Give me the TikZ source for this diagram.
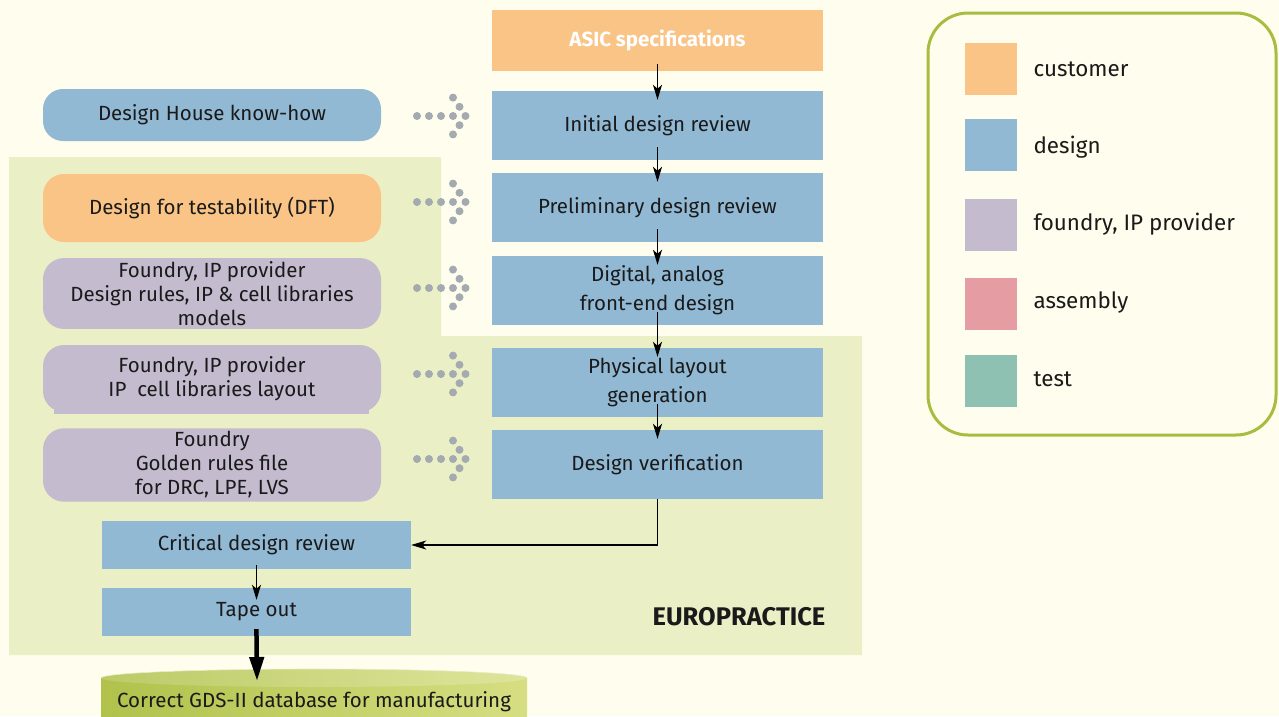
\documentclass[tikz,border=0pt]{standalone}
\usepackage{fontspec}
\setmainfont{Fira Sans}
\usetikzlibrary{arrows.meta,positioning,calc,shapes}
\definecolor{bgcream}{HTML}{FFFDEE}
\definecolor{epgreen}{HTML}{EBEFC5}
\definecolor{custorange}{HTML}{FAC487}
\definecolor{designblue}{HTML}{92B9D4}
\definecolor{foundrylilac}{HTML}{C4BBCF}
\definecolor{assemblypink}{HTML}{E59DA3}
\definecolor{testgreen}{HTML}{8EC1B1}
\definecolor{legendline}{HTML}{A8BC40}
\definecolor{dotgray}{HTML}{A3AAB0}
\definecolor{dbdark}{HTML}{B0C24C}
\definecolor{dblight}{HTML}{D6DE82}
\definecolor{txt}{HTML}{1A1A1A}
\tikzset{
stage/.style = {fill=designblue, rectangle, minimum width=331pt, minimum height=69pt, align=center, text=txt, font=\fontsize{20.5}{29}\selectfont},
source/.style = {rectangle, rounded corners=21pt, minimum width=338pt, minimum height=68pt, align=center, text=txt, font=\fontsize{20.5}{24}\selectfont},
review/.style = {fill=designblue, rectangle, minimum width=309pt, minimum height=48pt, text=txt, font=\fontsize{20.5}{24}\selectfont},
swatch/.style = {rectangle, minimum size=52pt, inner sep=0pt},
legendtext/.style = {anchor=west, text=txt, font=\fontsize{22.4}{26}\selectfont},
flow/.style = {-{Stealth[length=15pt,width=9pt,inset=4pt]}, line width=1.2pt, black},
dotarrow/.pic = {
  \foreach \dx in {-24,-12,0,12,24.5}
    \fill[dotgray] (\dx,0) circle (4pt);
  \foreach \dx/\dy in {12/-18.4,18.5/-9.2,18.5/9.2,12/18.4}
    \fill[dotgray] (\dx,\dy) circle (4pt);
}
}
\begin{document}
\begin{tikzpicture}[x=1pt, y=-1pt]
    \useasboundingbox (0,0) rectangle (1279,716);
    \fill[bgcream] (0,0) rectangle (1279,716);
    % EUROPRACTICE area
    \fill[epgreen] (9,157) -- (441,157) -- (441,336) -- (862,336) -- (862,655) -- (9,655) -- cycle;
    \node[font=\fontsize{25.5}{28}\selectfont\bfseries, text=txt] (ep) at (739,617) {EUROPRACTICE};

    % main flow
    \node [stage, fill=custorange, minimum height=61pt, text=white, font=\fontsize{20.5}{24}\selectfont\bfseries] (asic) at (657.5,40.5) {ASIC specifications};
    \node [stage, below of=asic, node distance=85pt] (idr) {Initial design review};
    \node [stage, below of=idr, node distance=82pt] (pdr) {Preliminary design review};
    \node [stage, below of=pdr, node distance=83pt] (fed) {Digital, analog\\front-end design};
    \node [stage, below of=fed, node distance=92pt] (pl) {Physical layout\\generation};
    \node [stage, below of=pl, node distance=82pt] (dv) {Design verification};
    \node [review] (cdr) at (256.5,545) {Critical design review};
    \node [review, below of=cdr, node distance=67pt] (tape) {Tape out};

    % inputs
    \node [source, fill=designblue, minimum height=52pt, rounded corners=20pt] (dh) at (212,115) {Design House know-how};
    \node [source, fill=custorange] (dft) at (212,208) {Design for testability (DFT)};
    \node [source, fill=foundrylilac] (fip1) at (212,293.5) {Foundry, IP provider\\Design rules, IP \& cell libraries\\models};
    \fill[foundrylilac] ($(212,378.5)+(-158,16)$) rectangle ($(212,378.5)+(157,35.5)$);
    \node [source, fill=foundrylilac, minimum height=67pt] (fip2) at (212,378.5) {Foundry, IP provider\\IP\ \ cell libraries layout};
    \node [source, fill=foundrylilac] (frf) at (212,465) {Foundry\\Golden rules file\\for DRC, LPE, LVS};

    \foreach \y in {116,202,288,374,459}
        \pic at (441,\y) {dotarrow};

    \draw [flow, shorten <=-7pt, shorten >=-9pt] (asic) -- (idr);
    \draw [flow, shorten <=-13pt, shorten >=-9pt] (idr) -- (pdr);
    \draw [flow, shorten <=-13pt, shorten >=-9pt] (pdr) -- (fed);
    \draw [flow, shorten <=-13pt, shorten >=-9pt] (fed) -- (pl);
    \draw [flow, shorten <=-13pt, shorten >=-9pt] (pl) -- (dv);
    \draw [flow] (dv.south) |- (cdr.east);
    \draw [flow, shorten <=-4pt, shorten >=-12pt] (cdr) -- (tape);

    % GDS-II database
    \begin{scope}
        \clip (0,0) rectangle (1279,716);
        \shade[left color=dbdark, right color=dblight] (101,678) rectangle (527,720);
        \shade[left color=dbdark!85!white, right color=dblight!80!white] (314,678) ellipse (213 and 9);
        \draw[white!70!dbdark, line width=0.6pt] (101,678) arc[start angle=180, end angle=360, x radius=213, y radius=9];
    \end{scope}
    \node[text=txt, font=\fontsize{20.5}{24}\selectfont] (gds) at (314,702) {Correct GDS-II database for manufacturing};
    \coordinate (gdstop) at (257,681);
    \draw [-{Triangle[length=24pt,width=14pt]}, line width=4.5pt, shorten <=-7pt] (tape.south) -- (gdstop);

    % legend
    \draw[legendline, line width=3pt, rounded corners=40pt] (928,13) rectangle (1276,435);
    \node[swatch, fill=custorange] (lcust) at (990.5,69) {};
    \node[swatch, fill=designblue] (ldes) at (990.5,145) {};
    \node[swatch, fill=foundrylilac] (lfip) at (990.5,225) {};
    \node[swatch, fill=assemblypink] (lasm) at (990.5,304) {};
    \node[swatch, fill=testgreen] (ltest) at (990.5,381) {};
    \node[legendtext] at (1030,69) {customer};
    \node[legendtext] at (1030,147) {design};
    \node[legendtext] at (1030,224) {foundry, IP provider};
    \node[legendtext] at (1030,302) {assembly};
    \node[legendtext] at (1030,379) {test};
\end{tikzpicture}
\end{document}
